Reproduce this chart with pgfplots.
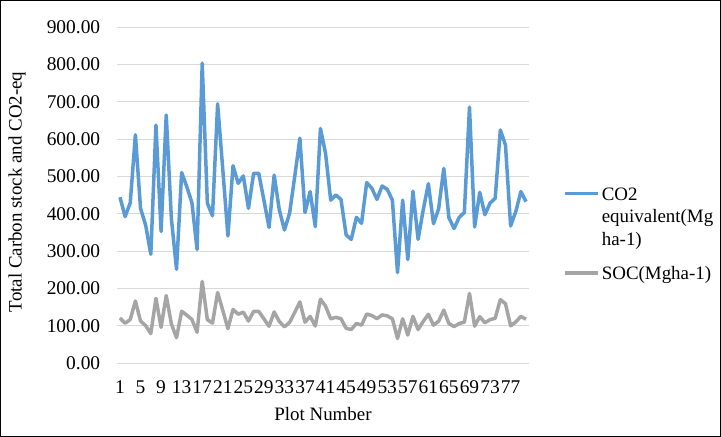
\documentclass[border=0pt]{standalone}
\usepackage{fontspec}
\setmainfont{Liberation Serif}
\usepackage{pgfplots}
\usepackage{pgfplotstable}
\pgfplotsset{compat=1.18}
\definecolor{cblue}{HTML}{5B9BD5}
\definecolor{cgray}{HTML}{A5A5A5}
\definecolor{gridc}{HTML}{D9D9D9}
\newcommand{\cf}{\fontsize{19}{22.5}\selectfont}
\newcommand{\tf}{\fontsize{19.5}{22.5}\selectfont}
\pgfplotstableread{
p co2 soc
1 445 121.4
2 393 107.2
3 430 117.3
4 612 166.9
5 415 113.2
6 370 100.9
7 292 79.6
8 638 174.0
9 353 96.3
10 665 181.4
11 388 105.8
12 252 68.7
13 511 139.4
14 473 129.0
15 430 117.3
16 305 83.2
17 804 219.3
18 429 117.0
19 395 107.7
20 695 189.5
21 520 141.8
22 341 93.0
23 529 144.3
24 482 131.5
25 502 136.9
26 415 113.2
27 509 138.8
28 509 138.8
29 437 119.2
30 364 99.3
31 504 137.5
32 411 112.1
33 357 97.4
34 402 109.6
35 500 136.4
36 603 164.5
37 404 110.2
38 460 125.5
39 366 99.8
40 629 171.5
41 562 153.3
42 437 119.2
43 451 123.0
44 439 119.7
45 344 93.8
46 332 90.5
47 391 106.6
48 375 102.3
49 484 132.0
50 469 127.9
51 439 119.7
52 475 129.5
53 466 127.1
54 437 119.2
55 243 66.3
56 437 119.2
57 278 75.8
58 461 125.7
59 332 90.5
60 411 112.1
61 481 131.2
62 374 102.0
63 414 112.9
64 522 142.4
65 390 106.4
66 361 98.5
67 391 106.6
68 404 110.2
69 686 187.1
70 365 99.5
71 458 124.9
72 398 108.5
73 429 117.0
74 442 120.5
75 625 170.5
76 585 159.5
77 368 100.4
78 406 110.7
79 460 125.5
80 433 118.1
}\data
\begin{document}
\begin{tikzpicture}
\path[use as bounding box] (0,0) rectangle (721bp,437bp);
\draw[black, line width=1.2bp] (0.6bp,0.6bp) rectangle (720.4bp,436.4bp);
\begin{axis}[
  at={(117.4bp,73.7bp)}, anchor=south west,
  scale only axis, width=411.2bp, height=336bp,
  xmin=0.5, xmax=80.5, ymin=0, ymax=900,
  xtick={1,5,...,77}, ytick={0,100,...,900},
  axis line style={draw=none},
  major tick length=0pt,
  ymajorgrids, grid style={gridc, line width=1bp},
  /pgf/number format/assume math mode=true,
  yticklabel style={/pgf/number format/.cd, fixed, fixed zerofill, precision=2, assume math mode=true, /tikz/.cd, font=\tf, inner sep=0pt, xshift=-17bp},
  xticklabel style={font=\tf, inner sep=0pt, yshift=-17bp},
  xlabel={Plot Number},
  xlabel style={font=\cf, at={(axis description cs:0.5,-0.152)}, anchor=center},
  ylabel={Total Carbon stock and CO2-eq},
  ylabel style={font=\cf, at={(axis description cs:-0.244,0.51)}, anchor=center},
  legend style={at={(axis description cs:1.084,0.538)}, anchor=north west, draw=none, fill=none, font=\cf, row sep=60bp, inner sep=0pt},
  legend cell align=left,
  legend image code/.code={\draw[#1] (0bp,0bp) -- (33bp,0bp);},
]
\addplot[cblue, line width=3.5bp, line join=round] table[x=p, y=co2] {\data};
\addlegendentry{\raisebox{0pt}[\height][0pt]{\begin{tabular}[t]{@{}l@{}}CO2\\equivalent(Mg\\ha-1)\end{tabular}}}
\addplot[cgray, line width=3.5bp, line join=round] table[x=p, y=soc] {\data};
\addlegendentry{SOC(Mgha-1)}
\end{axis}
\end{tikzpicture}
\end{document}
